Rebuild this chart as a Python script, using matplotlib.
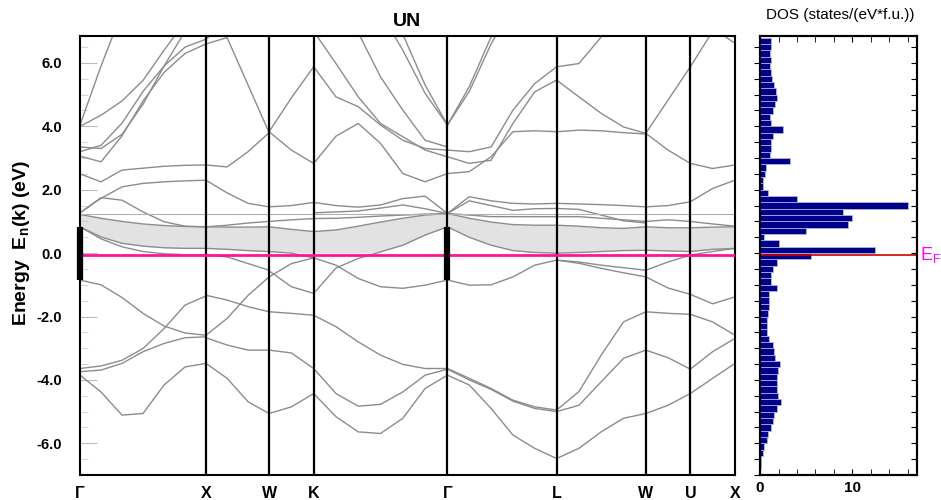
import numpy as np
import matplotlib
matplotlib.use("Agg")
import matplotlib.pyplot as plt

plt.rcParams['font.family'] = ['Liberation Sans', 'DejaVu Sans']
plt.rcParams['mathtext.fontset'] = 'custom'
plt.rcParams['mathtext.rm'] = 'Liberation Sans'
plt.rcParams['mathtext.bf'] = 'Liberation Sans:bold'

# fcc path, segment lengths in units of 2pi/a
path_labels = ['Γ', 'X', 'W', 'K', 'Γ', 'L', 'W', 'U', 'X']
seg_lengths = [1.0, 0.5, 0.35355, 1.06066, 0.86603, 0.70711, 0.35355, 0.35355]
e_fermi = -0.06
flat_level = 1.22
gap_bar = [-0.85, 0.83]

# band energies (eV), sampled evenly along each segment
gx_bands = [
    [4.04, 5.9, 7.6, 8.5, 9.0, 9.5, 10.0],
    [4.0, 4.35, 4.8, 5.45, 6.4, 7.3, 8.0],
    [3.35, 3.3, 3.75, 4.7, 5.9, 7.0, 8.0],
    [3.2, 3.4, 4.1, 5.1, 5.9, 6.5, 6.75],
    [3.06, 2.88, 3.7, 4.8, 5.7, 6.3, 6.6],
    [2.5, 2.25, 2.62, 2.68, 2.74, 2.77, 2.78],
    [1.27, 1.73, 2.09, 2.2, 2.25, 2.28, 2.3],
    [1.27, 1.75, 1.67, 1.3, 0.99, 0.85, 0.83],
    [1.22, 1.1, 1.0, 0.92, 0.87, 0.84, 0.83],
    [0.83, 0.51, 0.31, 0.22, 0.17, 0.15, 0.15],
    [0.83, 0.45, 0.2, 0.05, -0.02, -0.05, -0.06],
    [-0.85, -1.0, -1.4, -1.9, -2.3, -2.52, -2.59],
    [-3.64, -3.56, -3.38, -3.01, -2.38, -1.64, -1.35],
    [-3.74, -3.69, -3.48, -3.11, -2.85, -2.67, -2.64],
    [-3.85, -4.38, -5.11, -5.06, -4.16, -3.59, -3.48],
]
xw_bands = [
    [6.6, 6.8, 5.3, 3.8],
    [6.75, 7.3, 8.0, 8.5],
    [2.78, 2.72, 3.2, 3.8],
    [2.3, 1.9, 1.57, 1.46],
    [0.83, 0.88, 0.95, 1.0],
    [0.83, 0.82, 0.82, 0.83],
    [0.15, 0.12, 0.08, 0.05],
    [-0.06, -0.12, -0.33, -0.54],
    [-1.33, -1.48, -1.69, -1.85],
    [-2.59, -2.06, -1.33, -0.75],
    [-2.67, -2.9, -3.06, -3.06],
    [-3.48, -3.95, -4.69, -5.06],
]
wk_bands = [
    [3.83, 4.9, 5.88],
    [3.83, 3.25, 2.83],
    [1.46, 1.5, 1.6],
    [1.0, 1.05, 1.09],
    [0.83, 0.75, 0.68],
    [0.05, 0.0, -0.15],
    [-0.56, -1.06, -1.27],
    [-0.75, -0.33, -0.15],
    [-1.85, -1.9, -1.96],
    [-3.06, -3.15, -3.64],
    [-5.06, -4.85, -4.43],
]
kg_bands = [
    [5.88, 4.93, 4.62, 4.04, 3.56, 3.3, 3.25],
    [7.0, 5.98, 4.93, 4.09, 3.67, 3.25, 3.04],
    [9.0, 8.0, 6.95, 5.56, 4.51, 3.56, 3.35],
    [11.0, 10.0, 9.0, 7.6, 6.4, 5.04, 4.04],
    [11.0, 10.0, 9.0, 8.0, 6.9, 5.3, 4.04],
    [2.83, 3.69, 4.09, 3.46, 2.51, 2.25, 2.51],
    [1.6, 1.5, 1.45, 1.52, 1.72, 1.8, 1.25],
    [1.27, 1.3, 1.33, 1.42, 1.52, 1.4, 1.25],
    [1.09, 1.1, 1.13, 1.17, 1.2, 1.23, 1.25],
    [0.68, 0.73, 0.85, 0.98, 1.1, 1.2, 1.25],
    [-1.27, -0.47, -0.17, 0.04, 0.25, 0.57, 0.83],
    [-0.15, -0.38, -0.8, -1.06, -1.11, -1.01, -0.85],
    [-1.96, -2.32, -2.8, -3.22, -3.51, -3.64, -3.64],
    [-3.64, -4.43, -4.83, -4.77, -4.38, -3.85, -3.66],
    [-4.43, -5.16, -5.64, -5.69, -5.21, -4.27, -3.85],
]
gl_bands = [
    [4.04, 5.25, 6.82, 8.0, 9.0, 10.0],
    [4.04, 5.1, 6.6, 7.8, 9.0, 10.0],
    [3.25, 3.2, 3.35, 4.51, 5.35, 5.88],
    [3.04, 2.83, 2.93, 4.09, 5.09, 5.46],
    [2.51, 2.57, 3.04, 3.83, 3.86, 3.83],
    [1.25, 1.78, 1.65, 1.57, 1.55, 1.57],
    [1.25, 1.65, 1.5, 1.35, 1.4, 1.41],
    [1.25, 1.2, 1.15, 1.15, 1.15, 1.15],
    [1.25, 1.1, 0.98, 0.9, 0.88, 0.88],
    [0.83, 0.5, 0.25, 0.08, 0.02, 0.0],
    [-0.85, -1.01, -1.0, -0.75, -0.38, -0.22],
    [-3.64, -3.95, -4.27, -4.64, -4.85, -4.95],
    [-3.66, -4.0, -4.3, -4.67, -4.9, -5.0],
    [-3.85, -4.16, -4.9, -5.74, -6.16, -6.48],
]
lw_bands = [
    [5.88, 5.98, 6.82, 7.6, 8.3],
    [5.46, 4.93, 4.41, 3.98, 3.78],
    [3.83, 3.88, 3.86, 3.8, 3.76],
    [1.57, 1.55, 1.53, 1.5, 1.46],
    [1.41, 1.38, 1.2, 1.02, 0.95],
    [1.15, 1.15, 1.1, 1.05, 1.0],
    [0.88, 0.85, 0.8, 0.78, 0.83],
    [0.0, 0.02, 0.05, 0.08, 0.09],
    [-0.22, -0.28, -0.38, -0.46, -0.54],
    [-0.22, -0.32, -0.48, -0.62, -0.75],
    [-4.95, -4.37, -3.22, -2.17, -1.85],
    [-5.0, -4.8, -4.06, -3.32, -3.06],
    [-6.48, -6.16, -5.64, -5.21, -5.06],
]
wu_bands = [
    [3.78, 4.83, 5.88],
    [3.78, 3.25, 2.83],
    [1.46, 1.5, 1.62],
    [1.0, 1.05, 1.0],
    [0.83, 0.8, 0.8],
    [0.09, 0.07, 0.05],
    [-0.54, -0.28, -0.06],
    [-0.75, -1.1, -1.3],
    [-1.85, -1.9, -1.93],
    [-3.06, -3.3, -3.66],
    [-5.06, -4.8, -4.43],
]
ux_bands = [
    [5.88, 7.0, 8.0],
    [8.0, 7.1, 6.62],
    [2.83, 2.67, 2.78],
    [1.62, 2.04, 2.3],
    [1.0, 0.92, 0.85],
    [0.8, 0.82, 0.83],
    [0.05, 0.12, 0.15],
    [-0.06, 0.05, 0.15],
    [-1.3, -1.6, -1.38],
    [-1.93, -2.17, -2.59],
    [-3.66, -3.11, -2.69],
    [-4.43, -3.95, -3.48],
]

# shaded 5f window (upper / lower edge per segment)
gx_fill_top = [1.22, 1.1, 1.0, 0.92, 0.87, 0.84, 0.83]
gx_fill_bot = [0.83, 0.51, 0.31, 0.22, 0.17, 0.15, 0.15]
xw_fill_top = [0.83, 0.82, 0.82, 0.83]
xw_fill_bot = [0.15, 0.12, 0.08, 0.05]
wk_fill_top = [0.83, 0.75, 0.68]
wk_fill_bot = [0.05, 0.02, 0.0]
kg_fill_top = [0.68, 0.73, 0.85, 0.98, 1.1, 1.2, 1.25]
kg_fill_bot = [0.0, 0.0, 0.0, 0.04, 0.25, 0.57, 0.83]
gl_fill_top = [1.25, 1.1, 0.98, 0.9, 0.88, 0.88]
gl_fill_bot = [0.83, 0.5, 0.25, 0.08, 0.02, 0.0]
lw_fill_top = [0.88, 0.85, 0.8, 0.78, 0.83]
lw_fill_bot = [0.0, 0.02, 0.05, 0.08, 0.09]
wu_fill_top = [0.83, 0.8, 0.8]
wu_fill_bot = [0.09, 0.07, 0.05]
ux_fill_top = [0.8, 0.82, 0.83]
ux_fill_bot = [0.05, 0.12, 0.15]

# DOS histogram, 0.2 eV bins from 6.7 down to -6.9 eV (bin centres)
dos_energy = [6.7 - 0.2 * i for i in range(69)]
dos_values = [
    1.2, 1.2, 1.1, 1.2, 1.1, 1.2, 1.3, 1.5, 1.7, 1.8,
    1.6, 1.4, 1.1, 1.2, 2.5, 1.4, 1.2, 1.2, 1.1, 3.2,
    0.6, 0.5, 0.3, 0.3, 0.9, 4.0, 16.0, 9.0, 10.0, 9.5,
    5.0, 0.4, 2.0, 12.4, 5.5, 1.8, 1.4, 1.2, 1.2, 1.8,
    1.0, 1.0, 1.0, 0.9, 0.8, 0.8, 0.8, 1.0, 1.4, 1.5,
    1.6, 2.2, 1.9, 1.8, 1.8, 1.8, 1.9, 2.3, 1.8, 1.5,
    1.4, 1.2, 0.9, 0.7, 0.4, 0.3, 0.15, 0.05, 0.0,
]

segments = [
    (gx_bands, gx_fill_top, gx_fill_bot),
    (xw_bands, xw_fill_top, xw_fill_bot),
    (wk_bands, wk_fill_top, wk_fill_bot),
    (kg_bands, kg_fill_top, kg_fill_bot),
    (gl_bands, gl_fill_top, gl_fill_bot),
    (lw_bands, lw_fill_top, lw_fill_bot),
    (wu_bands, wu_fill_top, wu_fill_bot),
    (ux_bands, ux_fill_top, ux_fill_bot),
]

k_nodes = np.concatenate([[0.0], np.cumsum(seg_lengths)])
ymin, ymax = -7.0, 6.85

fig = plt.figure(figsize=(9.41, 5.0), dpi=100)
ax = fig.add_axes([0.085, 0.05, 0.696, 0.878])
ax2 = fig.add_axes([0.8077, 0.05, 0.1669, 0.878])

# ===== band structure =====
for i, (bands, top, bot) in enumerate(segments):
    k = np.linspace(k_nodes[i], k_nodes[i + 1], len(top))
    ax.fill_between(k, bot, top, color='#e2e2e2', lw=0, zorder=1)
    for b in bands:
        ax.plot(k, b, color='#8c8c8c', lw=1.0, zorder=2)

ax.axhline(flat_level, color='#b0b0b0', lw=0.8, zorder=2)
for k in k_nodes[1:-1]:
    ax.axvline(k, color='black', lw=1.6, zorder=3)
ax.axhline(e_fermi, color='#ff1493', lw=2, zorder=4)
for k in [k_nodes[0], k_nodes[4]]:
    ax.plot([k, k], gap_bar, color='black', lw=4.5, solid_capstyle='butt',
            clip_on=False, zorder=5)

ax.set_xlim(k_nodes[0], k_nodes[-1])
ax.set_ylim(ymin, ymax)
ax.set_xticks(k_nodes)
ax.set_xticklabels(path_labels, fontsize=11.5, fontweight='bold')
ax.tick_params(axis='x', length=0, pad=8)
ax.set_yticks(np.arange(-6, 7, 2))
ax.set_yticks(np.arange(-7, 7, 0.5), minor=True)
ax.set_yticklabels([f'{v:.1f}' for v in np.arange(-6, 7, 2)],
                   fontsize=10.5, fontweight='bold')
ax.tick_params(axis='y', which='major', direction='in', length=12,
               color='#bbbbbb', labelcolor='black', pad=13)
ax.tick_params(axis='y', which='minor', direction='in', length=6,
               color='#cccccc')
for s in ax.spines.values():
    s.set_linewidth(1.5)
ax.set_title('UN', fontsize=14, fontweight='bold', pad=7)
fig.text(0.023, 0.514, 'Energy  E$_\\mathbf{n}$(k) (eV)', rotation=90,
         fontsize=14, fontweight='bold', ha='center', va='center')

# ===== DOS panel =====
ax2.barh(dos_energy, dos_values, height=0.2, color='#00008b',
         edgecolor='#b8bde0', lw=0.5, zorder=2)
ax2.axhline(e_fermi, color='#cc0000', lw=1.2, zorder=3)
ax2.set_xlim(0, 17)
ax2.set_ylim(ymin, ymax)
ax2.set_xticks([0, 10])
ax2.set_xticklabels(['0', '10'], fontsize=11, fontweight='bold')
ax2.set_xticks(np.arange(0, 17, 2), minor=True)
ax2.tick_params(axis='x', which='both', direction='in', top=True,
                length=4, pad=4)
ax2.set_yticks(np.arange(-7, 7, 0.5))
ax2.set_yticklabels([])
ax2.tick_params(axis='y', direction='out', length=4)
ax2r = ax2.twinx()
ax2r.set_ylim(ymin, ymax)
ax2r.set_yticks(np.arange(-7, 7, 0.5))
ax2r.set_yticklabels([])
ax2r.tick_params(axis='y', direction='in', length=4)
for a in (ax2, ax2r):
    for s in a.spines.values():
        s.set_linewidth(1.5)

fig.text(0.893, 0.97, 'DOS (states/(eV*f.u.))', fontsize=11,
         ha='center', va='center')
fig.text(0.9775, 0.49, 'E$_\\mathrm{F}$', color='#ff00ff', fontsize=13,
         ha='left', va='center')

fig.savefig('out.png', dpi=100)
